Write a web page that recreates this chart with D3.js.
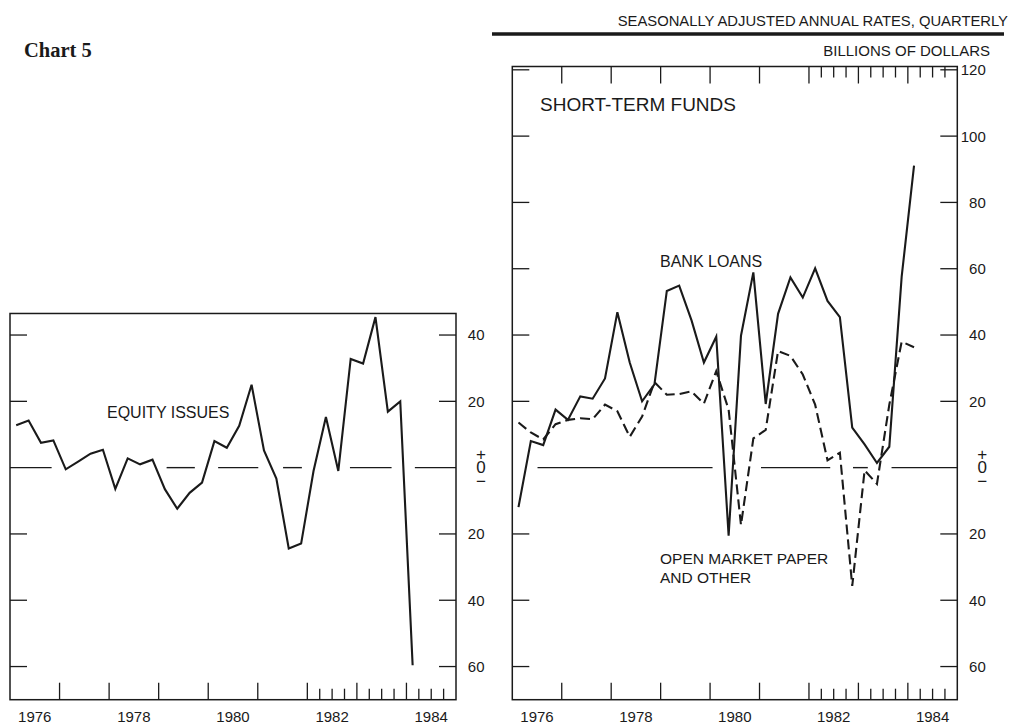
<!DOCTYPE html>
<html><head><meta charset="utf-8">
<script src="https://cdn.jsdelivr.net/npm/d3@7"></script>
<style>
html,body{margin:0;padding:0;background:#fff;}
svg{display:block;}
text{font-family:"Liberation Sans",Arial,sans-serif;fill:#1a1a1a;}
.zero{writing-mode:vertical-rl;text-orientation:upright;}
</style></head>
<body>
<svg id="c" width="1011" height="728"></svg>
<script>
// ---- data (quarterly, 1976 Q1 – 1984 Q1), billions of dollars, SAAR ----
const quarters = d3.range(33).map(i => 1976 + Math.floor(i / 4) + (i % 4) / 4);
const equityIssues = [12.8, 14.2, 7.5, 8.2, -0.5, 1.8, 4.2, 5.4, -6.4, 2.8, 1.0, 2.4, -6.5, -12.4, -7.6, -4.5,
  8.0, 6.0, 12.6, 25.0, 5.2, -3.3, -24.4, -22.9, -1.0, 15.3, -1.0, 32.8, 31.4, 45.4, 16.9, 20.0, -59.6];
const bankLoans = [-11.9, 8.0, 6.8, 17.5, 14.4, 21.5, 20.8, 26.9, 46.9, 31.7, 20.0, 25.1, 53.3, 54.9, 44.4, 31.7,
  39.5, -20.5, 39.8, 58.9, 19.2, 46.4, 57.4, 51.3, 60.1, 50.3, 45.4, 12.1, 7.0, 1.4, 6.3, 57.6, 91.1];
const openMarketPaper = [13.6, 10.6, 8.5, 13.1, 14.4, 14.9, 14.6, 19.0, 17.0, 9.3, 15.4, 25.8, 22.0, 22.2, 23.0, 19.3,
  29.1, 17.5, -17.3, 8.8, 11.4, 35.2, 33.7, 28.1, 19.0, 2.2, 4.5, -35.7, -0.8, -4.9, 19.0, 38.0, 36.3];
const yearLabels = [1976, 1978, 1980, 1982, 1984];
const majorYears = d3.range(1977, 1985);
const minorQuarters = [1982.25, 1982.5, 1982.75, 1983.25, 1983.5, 1983.75, 1984.25, 1984.5, 1984.75];
const leftTicks = [40, 20, -20, -40, -60];
const rightTicks = [120, 100, 80, 60, 40, 20, -20, -40, -60];
// zero line pieces (in years) – the line is broken where the curves cross it
const leftZeroPieces = [[1976, 1976.84], [1979.16, 1979.73], [1980.2, 1981.01], [1981.51, 1981.89], [1982.86, 1983.7], [1984.17, 1985]];
const rightZeroPieces = [[1976.51, 1980.05], [1981.03, 1982.43], [1982.89, 1983.19], [1983.67, 1985]];

// ---- drawing ----
const svg = d3.select("#c");
const ink = "#1a1a1a";
const y = d3.scaleLinear().domain([-70, 121]).range([699.7, 66.5]);
const xL = d3.scaleLinear().domain([1976, 1985]).range([10, 456]);
const xR = d3.scaleLinear().domain([1976, 1985]).range([512.3, 957.3]);
const mid = q => q + 0.125;

// header
svg.append("text").attr("x", 24).attr("y", 57).text("Chart 5")
  .style("font-family", '"Liberation Serif","Times New Roman",serif').style("font-weight", "bold").style("font-size", "20.5px");
svg.append("text").attr("x", 1008).attr("y", 26).attr("text-anchor", "end").style("font-size", "14.8px")
  .text("SEASONALLY ADJUSTED ANNUAL RATES,  QUARTERLY");
svg.append("line").attr("x1", 492).attr("x2", 1004).attr("y1", 34).attr("y2", 34).attr("stroke", ink).attr("stroke-width", 3.5);
svg.append("text").attr("x", 990).attr("y", 55.5).attr("text-anchor", "end").style("font-size", "15px")
  .text("BILLIONS OF DOLLARS");

function panel(x, topVal, ticks, pieces, topTicks) {
  const g = svg.append("g");
  const [x0, x1] = x.range();
  const yTop = y(topVal), yBot = y(-70);
  g.append("rect").attr("x", x0).attr("y", yTop).attr("width", x1 - x0).attr("height", yBot - yTop)
    .attr("fill", "none").attr("stroke", ink).attr("stroke-width", 1.5);
  // y ticks both sides
  ticks.forEach(t => {
    const yy = y(t);
    if (yy > yTop + 2) {
      g.append("line").attr("x1", x0).attr("x2", x0 + 17).attr("y1", yy).attr("y2", yy).attr("stroke", ink).attr("stroke-width", 1.3);
      g.append("line").attr("x1", x1 - 17).attr("x2", x1).attr("y1", yy).attr("y2", yy).attr("stroke", ink).attr("stroke-width", 1.3);
    }
    g.append("text").attr("x", x1 + 28.5).attr("y", yy).attr("dy", "0.36em").attr("text-anchor", "end")
      .style("font-size", "15px").text(Math.abs(t));
  });
  // zero label: "+" over "0" over "−", set vertically in one text
  const cx = x1 + 25, y0 = y(0);
  g.append("text").attr("class", "zero").attr("x", cx).attr("y", y0 - 2.5).attr("text-anchor", "middle")
    .style("font-size", "17px").style("letter-spacing", "-5.5px").text("+0\u2212");
  // zero line
  pieces.forEach(p => g.append("line").attr("x1", x(p[0])).attr("x2", x(p[1])).attr("y1", y0).attr("y2", y0)
    .attr("stroke", ink).attr("stroke-width", 1.4));
  // x ticks
  const edges = topTicks ? [[yBot, -1], [yTop, 1]] : [[yBot, -1]];
  edges.forEach(([ye, dir]) => {
    majorYears.forEach(t => g.append("line").attr("x1", x(t)).attr("x2", x(t)).attr("y1", ye).attr("y2", ye + dir * 17)
      .attr("stroke", ink).attr("stroke-width", 1.3));
    minorQuarters.forEach(t => g.append("line").attr("x1", x(t)).attr("x2", x(t)).attr("y1", ye).attr("y2", ye + dir * 11)
      .attr("stroke", ink).attr("stroke-width", 1.3));
  });
  yearLabels.forEach(yr => g.append("text").attr("x", x(yr + 0.5)).attr("y", 721.5).attr("text-anchor", "middle")
    .style("font-size", "15px").text(yr));
  return g;
}

const gL = panel(xL, 46.5, leftTicks, leftZeroPieces, false);
const gR = panel(xR, 121, rightTicks, rightZeroPieces, true);

function series(g, x, vals, dash) {
  const line = d3.line().x((d, i) => x(mid(quarters[i]))).y(d => y(d));
  g.append("path").attr("d", line(vals)).attr("fill", "none").attr("stroke", ink)
    .attr("stroke-width", 2.1).attr("stroke-linejoin", "miter").attr("stroke-dasharray", dash || null);
}
series(gL, xL, equityIssues);
series(gR, xR, openMarketPaper, "10,5");
series(gR, xR, bankLoans);

// labels
gL.append("text").attr("x", 107).attr("y", 418).style("font-size", "16px").text("EQUITY ISSUES");
gR.append("text").attr("x", 540).attr("y", 110.5).style("font-size", "19px").text("SHORT-TERM FUNDS");
gR.append("text").attr("x", 660).attr("y", 267).style("font-size", "16px").text("BANK LOANS");
gR.append("text").attr("x", 660).attr("y", 563.5).style("font-size", "15.5px").text("OPEN MARKET PAPER");
gR.append("text").attr("x", 660).attr("y", 583).style("font-size", "15.5px").text("AND OTHER");
</script>
</body></html>
